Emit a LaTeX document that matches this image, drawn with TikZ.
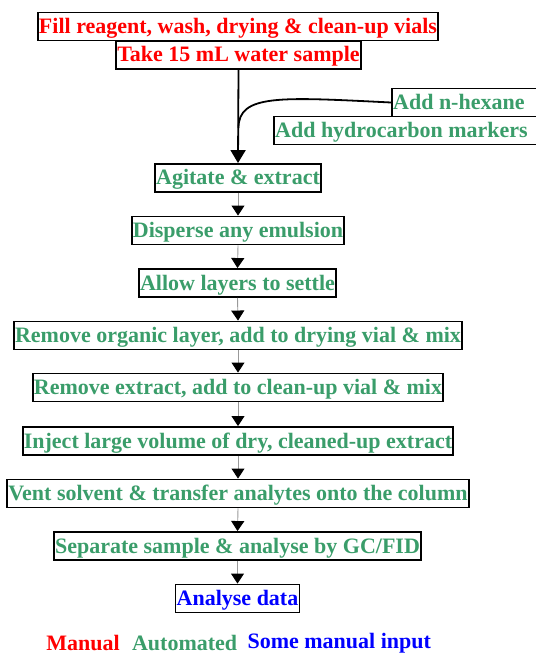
\documentclass[tikz,border=0pt]{standalone}
\usepackage{fontspec}
\setmainfont{Liberation Serif}
\usetikzlibrary{positioning, arrows.meta}
\definecolor{xred}{HTML}{FF0000}
\definecolor{xgreen}{HTML}{3A9D6A}
\definecolor{xblue}{HTML}{0000FF}
\tikzset{
	stepbox/.style = {draw=black, line width=1.9pt, text=#1, font=\fontsize{22}{24}\selectfont\bfseries,
		inner xsep=1.2pt, inner ysep=2pt, text height=19pt, text depth=5pt},
	flow/.style = {gray!80, line width=0.9pt, -{Triangle[length=10pt, width=13pt, black]}},
	mainflow/.style = {black, line width=1.8pt, -{Triangle[length=13pt, width=15pt]}},
	legend/.style = {text=#1, font=\fontsize{22}{24}\selectfont\bfseries, inner sep=1pt},
}
\begin{document}
\begin{tikzpicture}[x=1pt, y=-1pt]
			\useasboundingbox (0,0) rectangle (535,655);
			\node[stepbox=xred] (fill) at (238,26.5) {Fill reagent, wash, drying \& clean-up vials};
			\node[stepbox=xred] (take) at (238.5,55) {Take 15 mL water sample};
			\node[stepbox=xgreen, anchor=west] (hexane) at (391,102.5) {Add n-hexane\kern20pt};
			\node[stepbox=xgreen, anchor=west] (markers) at (273,130.5) {Add hydrocarbon markers\kern20pt};
			\node[stepbox=xgreen] (agitate) at (238,178) {Agitate \& extract};
			\node[stepbox=xgreen] (disperse) at (238,230.5) {Disperse any emulsion};
			\node[stepbox=xgreen] (settle) at (237.5,283) {Allow layers to settle};
			\node[stepbox=xgreen] (organic) at (238,335.5) {Remove organic layer, add to drying vial \& mix};
			\node[stepbox=xgreen] (extract) at (238,387.5) {Remove extract, add to clean-up vial \& mix};
			\node[stepbox=xgreen] (inject) at (238,441) {Inject large volume of dry, cleaned-up extract};
			\node[stepbox=xgreen] (vent) at (238,493.5) {Vent solvent \& transfer analytes onto the column};
			\node[stepbox=xgreen] (separate) at (237.5,546) {Separate sample \& analyse by GC/FID};
			\node[stepbox=xblue] (analyse) at (237.5,598.5) {Analyse data};
			% sample and solvent feed
			\coordinate (join) at (238.5,128);
			\draw[mainflow] (take.south) -- (agitate.north);
			\draw[black, line width=1.8pt] (hexane.west) .. controls (280,97) and (238.5,94) .. (join);
			% automated steps
			\foreach \a/\b in {agitate/disperse, disperse/settle, settle/organic, organic/extract,
				extract/inject, inject/vent, vent/separate, separate/analyse}
				\draw[flow] (\a.south) -- (\b.north);
			% legend
			\node[legend=xred] (manual) at (83,643) {Manual};
			\node[legend=xgreen, right=10pt of manual] (auto) {Automated};
			\node[legend=xblue, right=8pt of auto] (some) {Some manual input};
		\end{tikzpicture}
\end{document}
